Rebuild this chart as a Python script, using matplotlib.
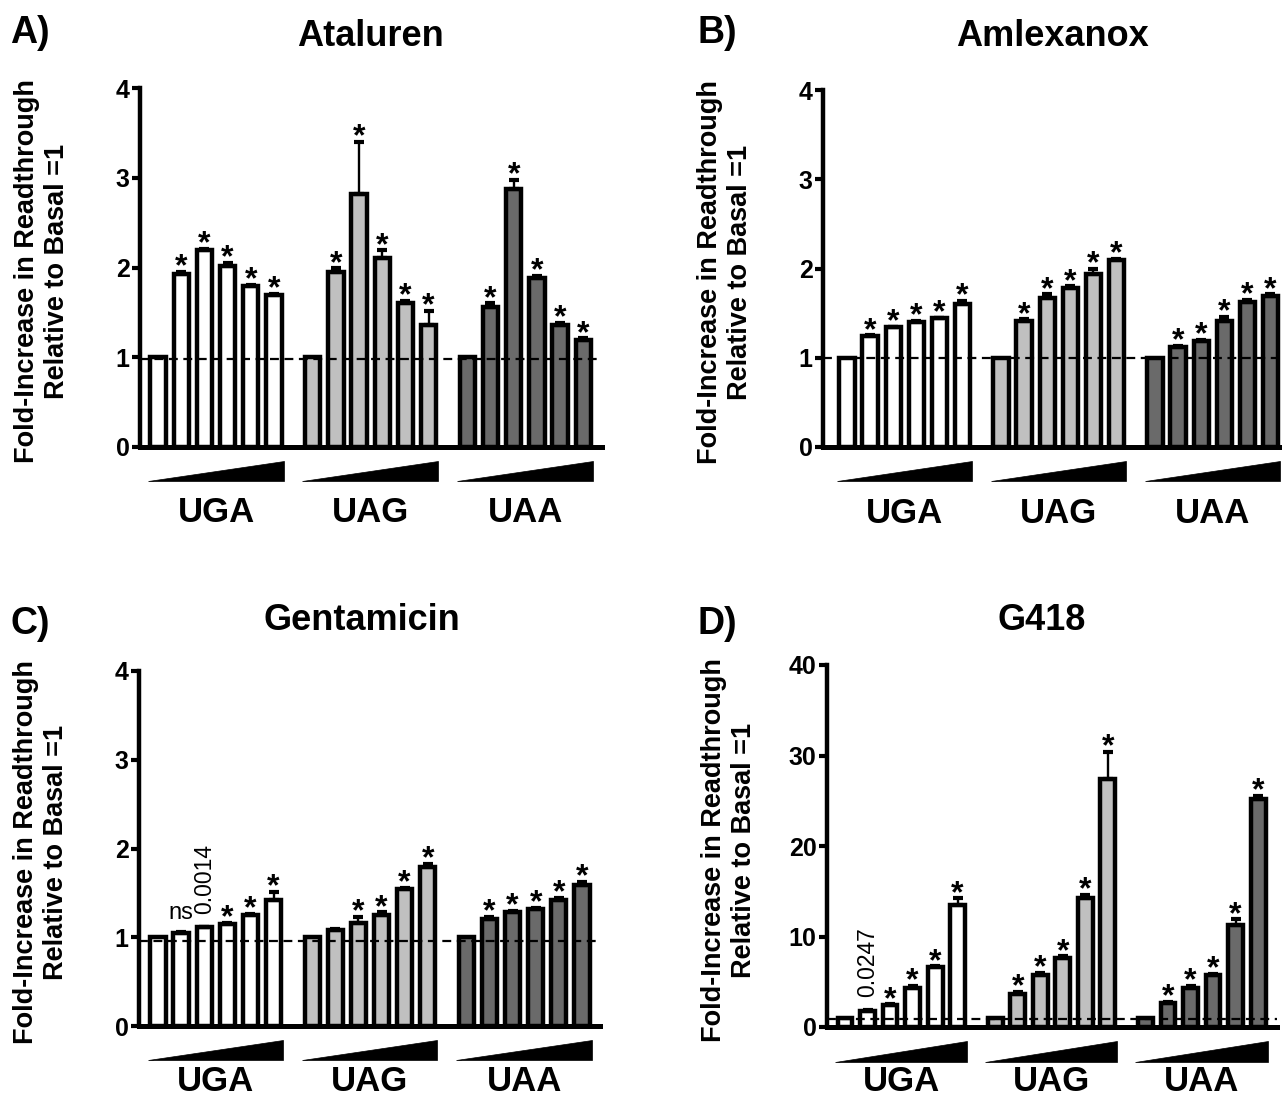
import matplotlib
matplotlib.use('Agg')
import matplotlib.pyplot as plt
import matplotlib.transforms as mtransforms
from matplotlib.patches import Polygon
import numpy as np

plt.rcParams['font.family'] = ['Liberation Sans', 'DejaVu Sans']

# ---------------- data ----------------
groups = ['UGA', 'UAG', 'UAA']
group_colors = ['#ffffff', '#c0c0c0', '#6a6a6a']

ataluren_mean = [[1.00, 1.93, 2.19, 2.02, 1.79, 1.69],
                 [1.00, 1.95, 2.82, 2.11, 1.61, 1.36],
                 [1.00, 1.56, 2.88, 1.88, 1.36, 1.19]]
ataluren_err = [[0, 0.02, 0.02, 0.03, 0.02, 0.02],
                [0, 0.04, 0.58, 0.08, 0.02, 0.16],
                [0, 0.04, 0.10, 0.03, 0.02, 0.02]]
ataluren_sig = [['', '*', '*', '*', '*', '*'],
                ['', '*', '*', '*', '*', '*'],
                ['', '*', '*', '*', '*', '*']]

amlexanox_mean = [[1.00, 1.24, 1.34, 1.40, 1.44, 1.60],
                  [1.00, 1.41, 1.67, 1.78, 1.94, 2.09],
                  [1.00, 1.12, 1.19, 1.41, 1.63, 1.69]]
amlexanox_err = [[0, 0.01, 0.01, 0.01, 0.01, 0.04],
                 [0, 0.02, 0.04, 0.02, 0.06, 0.02],
                 [0, 0.01, 0.01, 0.05, 0.02, 0.02]]
amlexanox_sig = [['', '*', '*', '*', '*', '*'],
                 ['', '*', '*', '*', '*', '*'],
                 ['', '*', '*', '*', '*', '*']]

gentamicin_mean = [[1.00, 1.05, 1.11, 1.15, 1.25, 1.42],
                   [1.00, 1.08, 1.16, 1.25, 1.54, 1.79],
                   [1.00, 1.21, 1.29, 1.32, 1.42, 1.59]]
gentamicin_err = [[0, 0.01, 0.01, 0.01, 0.01, 0.09],
                  [0, 0.01, 0.07, 0.03, 0.02, 0.04],
                  [0, 0.02, 0.01, 0.01, 0.02, 0.03]]
gentamicin_sig = [['', 'ns', '0.0014', '*', '*', '*'],
                  ['', '', '*', '*', '*', '*'],
                  ['', '*', '*', '*', '*', '*']]

g418_mean = [[1.0, 1.8, 2.4, 4.35, 6.6, 13.5],
             [1.0, 3.6, 5.7, 7.6, 14.2, 27.4],
             [1.0, 2.65, 4.3, 5.8, 11.3, 25.2]]
g418_err = [[0, 0.1, 0.1, 0.2, 0.1, 0.7],
            [0, 0.25, 0.3, 0.2, 0.4, 3.0],
            [0, 0.1, 0.25, 0.1, 0.6, 0.3]]
g418_sig = [['', '0.0247', '*', '*', '*', '*'],
            ['', '*', '*', '*', '*', '*'],
            ['', '*', '*', '*', '*', '*']]

titles = ['Ataluren', 'Amlexanox', 'Gentamicin', 'G418']
letters = ['A)', 'B)', 'C)', 'D)']
yticks_list = [[0, 1, 2, 3, 4], [0, 1, 2, 3, 4], [0, 1, 2, 3, 4], [0, 10, 20, 30, 40]]
basal_lines = [0.98, 1.0, 0.96, 0.9]
ylabel_text = 'Fold-Increase in Readthrough\nRelative to Basal =1'

means_all = [ataluren_mean, amlexanox_mean, gentamicin_mean, g418_mean]
errs_all = [ataluren_err, amlexanox_err, gentamicin_err, g418_err]
sigs_all = [ataluren_sig, amlexanox_sig, gentamicin_sig, g418_sig]

# ---------------- layout (pixels) ----------------
W, H = 1282, 1100
fig = plt.figure(figsize=(W / 100, H / 100), dpi=100)

layout = [
    dict(box=(140, 88, 602, 447), xlim=(-0.78, 19.15), tx=370, ty=36, lx=10, ly=33, gy=522),
    dict(box=(823, 90, 1281, 447), xlim=(-1.04, 18.8), tx=1052, ty=36, lx=697, ly=33, gy=523),
    dict(box=(139, 671, 600, 1026), xlim=(-0.82, 19.12), tx=362, ty=620, lx=10, ly=624, gy=1091),
    dict(box=(827, 665, 1277, 1027), xlim=(-0.8, 19.18), tx=1042, ty=620, lx=697, ly=624, gy=1091),
]

group_offset = 6.67
bar_width = 0.66

for p in range(4):
    L = layout[p]
    l, t, r, b = L['box']
    ax = fig.add_axes([l / W, 1 - b / H, (r - l) / W, (b - t) / H])
    yt = yticks_list[p]
    ax.set_ylim(0, yt[-1])
    ax.set_xlim(*L['xlim'])

    trans = mtransforms.blended_transform_factory(ax.transData, ax.transAxes)
    gy_axes = (b - L['gy']) / (b - t)
    for g in range(3):
        xs = g * group_offset + np.arange(6)
        m = np.array(means_all[p][g])
        e = np.array(errs_all[p][g])
        ax.bar(xs, m, width=bar_width, color=group_colors[g], edgecolor='black',
               linewidth=3.2, zorder=2)
        mask = e > 0
        ax.errorbar(xs[mask], m[mask], yerr=[np.zeros(mask.sum()), e[mask]], fmt='none',
                    ecolor='black', elinewidth=1.7, capsize=3.6, capthick=3.0, zorder=3)
        for i in range(6):
            s = sigs_all[p][g][i]
            top = m[i] + e[i]
            if s == '*':
                ax.annotate('*', xy=(xs[i], top), xytext=(0, -2.5), textcoords='offset points',
                            ha='center', va='baseline', fontsize=23, fontweight='bold', zorder=5)
            elif s == 'ns':
                ax.annotate('ns', xy=(xs[i], top), xytext=(0, 9), textcoords='offset points',
                            ha='center', va='baseline', fontsize=17, zorder=5)
            elif s:
                ax.annotate(s, xy=(xs[i], top), xytext=(0, 9), textcoords='offset points',
                            ha='center', va='bottom', rotation=90, fontsize=16.5, zorder=5)
        # dose wedge
        xl = xs[0] - 0.45
        xr = xs[-1] + 0.42
        ax.add_patch(Polygon([(xl, -0.096), (xr, -0.096), (xr, -0.04)], closed=True,
                             transform=trans, clip_on=False, facecolor='black',
                             edgecolor='black', linewidth=0.5))
        ax.text((xs[0] + xs[-1]) / 2, gy_axes, groups[g], transform=trans, ha='center',
                va='baseline', fontsize=25, fontweight='bold')

    ax.axhline(basal_lines[p], color='black', lw=1.6, ls=(0, (4, 2.5)), zorder=4)

    for sp in ['top', 'right']:
        ax.spines[sp].set_visible(False)
    ax.spines['left'].set_linewidth(3.2)
    ax.spines['bottom'].set_linewidth(3.6)
    ax.set_yticks(yt)
    ax.set_yticklabels([str(v) for v in yt])
    ax.tick_params(axis='y', direction='out', length=5.5, width=3.0, pad=2, labelsize=18)
    for lbl in ax.get_yticklabels():
        lbl.set_fontweight('bold')
    ax.tick_params(axis='x', length=0, labelbottom=False)
    ax.set_xticks([])

    fig.text(L['tx'] / W, 1 - L['ty'] / H, titles[p], ha='center', va='center',
             fontsize=26, fontweight='bold')
    fig.text(L['lx'] / W, 1 - L['ly'] / H, letters[p], ha='left', va='center',
             fontsize=27, fontweight='bold')
    fig.text((l - 98) / W, 1 - ((t + b) / 2 + 4) / H, ylabel_text, rotation=90,
             ha='center', va='center', multialignment='center', fontsize=19.5,
             fontweight='bold', linespacing=1.2)

fig.savefig('out.png', dpi=100, facecolor='white')
